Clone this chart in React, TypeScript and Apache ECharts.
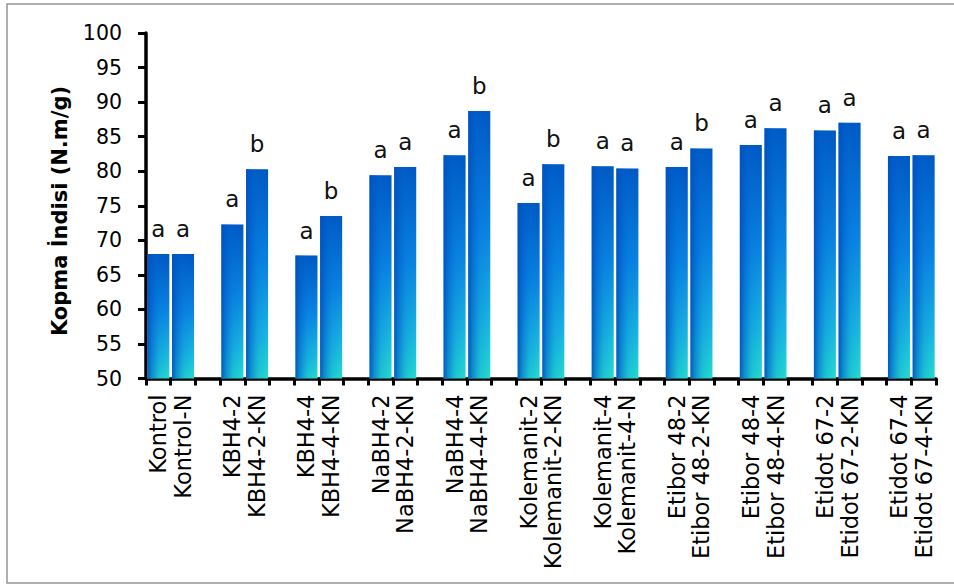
import React, { useEffect, useRef } from "react";
import * as echarts from "echarts";

// Bar names, in plotting order (two treatments per group)
const barLabels = [
  "Kontrol", "Kontrol-N",
  "KBH4-2", "KBH4-2-KN",
  "KBH4-4", "KBH4-4-KN",
  "NaBH4-2", "NaBH4-2-KN",
  "NaBH4-4", "NaBH4-4-KN",
  "Kolemanit-2", "Kolemanit-2-KN",
  "Kolemanit-4", "Kolemanit-4-N",
  "Etibor 48-2", "Etibor 48-2-KN",
  "Etibor 48-4", "Etibor 48-4-KN",
  "Etidot 67-2", "Etidot 67-2-KN",
  "Etidot 67-4", "Etidot 67-4-KN",
];

// Kopma indisi (N.m/g)
const kopmaIndisi = [
  68.0, 68.0,
  72.3, 80.3,
  67.8, 73.5,
  79.4, 80.6,
  82.3, 88.7,
  75.4, 81.0,
  80.7, 80.4,
  80.6, 83.3,
  83.8, 86.2,
  85.9, 87.0,
  82.2, 82.3,
];

// Significance letters above each bar
const letters = [
  "a", "a",
  "a", "b",
  "a", "b",
  "a", "a",
  "a", "b",
  "a", "b",
  "a", "a",
  "a", "b",
  "a", "a",
  "a", "a",
  "a", "a",
];

const Y_MIN = 50;
const Y_MAX = 100;
const Y_STEP = 5;

const FONT = "'DejaVu Sans', 'Open Sans', sans-serif";

export default function App() {
  const ref = useRef<HTMLDivElement>(null);

  useEffect(() => {
    if (!ref.current) return;
    const chart = echarts.init(ref.current, null, { renderer: "svg" });

    // Category slots: two bars per group, an empty slot between groups
    const slots: string[] = [];
    const values: (number | string)[] = [];
    const slotLetters: string[] = [];
    barLabels.forEach((name, i) => {
      slots.push(name);
      values.push(kopmaIndisi[i]);
      slotLetters.push(letters[i]);
      if (i % 2 === 1 && i < barLabels.length - 1) {
        slots.push("");
        values.push("-");
        slotLetters.push("");
      }
    });

    const verticalFill = new echarts.graphic.LinearGradient(0, 0, 0, 1, [
      { offset: 0, color: "#0057c2" },
      { offset: 0.45, color: "#0a84e2" },
      { offset: 0.8, color: "#1ab8e0" },
      { offset: 1, color: "#24dccf" },
    ]);
    const sideShade = new echarts.graphic.LinearGradient(0, 0, 1, 0, [
      { offset: 0, color: "rgba(0,82,190,0.95)" },
      { offset: 0.2, color: "rgba(0,90,200,0.6)" },
      { offset: 0.55, color: "rgba(0,110,215,0.2)" },
      { offset: 1, color: "rgba(0,110,215,0)" },
    ]);

    chart.setOption({
      animation: false,
      backgroundColor: "#ffffff",
      grid: { left: 146, right: 18, top: 33, bottom: 206.5, containLabel: false },
      xAxis: {
        type: "category",
        data: slots,
        boundaryGap: true,
        axisLine: { show: true, lineStyle: { color: "#000", width: 3.5 } },
        axisTick: { show: true, interval: 0, length: 7, lineStyle: { color: "#000", width: 3 } },
        axisLabel: {
          interval: 0,
          rotate: 90,
          margin: 16,
          color: "#000",
          fontFamily: FONT,
          fontSize: 22.5,
        },
      },
      yAxis: {
        type: "value",
        min: Y_MIN,
        max: Y_MAX,
        interval: Y_STEP,
        axisLine: { show: true, lineStyle: { color: "#000", width: 3.5 } },
        axisTick: { show: true, length: 8, lineStyle: { color: "#000", width: 3 } },
        splitLine: { show: false },
        axisLabel: {
          margin: 24,
          color: "#000",
          fontFamily: FONT,
          fontSize: 20.5,
        },
      },
      series: [
        {
          type: "bar",
          data: values,
          barWidth: 22,
          barGap: "-100%",
          itemStyle: { color: verticalFill },
          label: {
            show: true,
            position: "top",
            distance: 13.5,
            color: "#111",
            fontFamily: FONT,
            fontSize: 23,
            formatter: (p: any) => slotLetters[p.dataIndex] || "",
          },
          z: 2,
        },
        {
          type: "bar",
          data: values,
          barWidth: 22,
          barGap: "-100%",
          silent: true,
          itemStyle: { color: sideShade },
          z: 3,
        },
      ],
      graphic: [
        {
          type: "rect",
          shape: { x: 7, y: 4, width: 1000, height: 579 },
          style: { fill: "none", stroke: "#959595", lineWidth: 1.5 },
          silent: true,
        },
        {
          type: "text",
          x: 60,
          y: 211,
          rotation: Math.PI / 2,
          style: {
            text: "Kopma İndisi (N.m/g)",
            fontFamily: FONT,
            fontWeight: "bold",
            fontSize: 21,
            fill: "#000",
            align: "center",
            verticalAlign: "middle",
          },
        },
      ],
    });

    return () => chart.dispose();
  }, []);

  return (
    <div
      ref={ref}
      style={{ position: "absolute", left: 0, top: 0, width: 954, height: 585 }}
    />
  );
}
